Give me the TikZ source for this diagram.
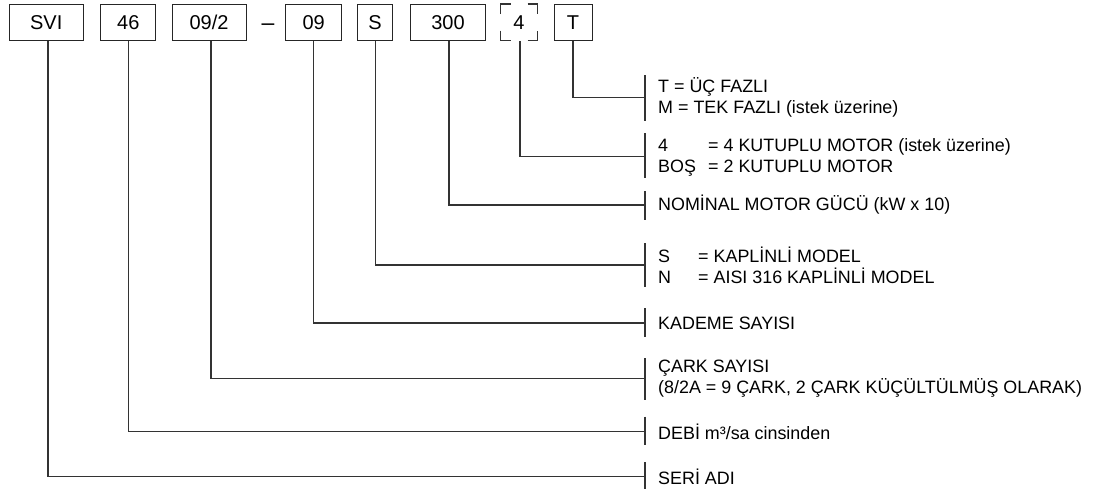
\documentclass[tikz,border=0pt]{standalone}
\usepackage{fontspec}
\setmainfont{Liberation Sans}
\begin{document}
\begin{tikzpicture}[x=1pt,y=-1pt,
  codebox/.style={draw=black!85, line width=1pt, minimum height=36.7pt, inner sep=0pt, font=\fontsize{20}{22}\selectfont},
  plainbox/.style={minimum height=36.7pt, inner sep=0pt, font=\fontsize{20}{22}\selectfont},
  conn/.style={draw=black!80, line width=1.1pt},
  bar/.style={draw=black!80, line width=1.1pt},
  desc/.style={anchor=west, inner sep=0pt, align=left, font=\fontsize{17.9}{21}\selectfont}]
\useasboundingbox (0,0) rectangle (1093,488);
% code boxes
\node[codebox, minimum width=73.7pt] (svi) at (46.2,22.35) {SVI};
\node[codebox, minimum width=55.3pt] (debi) at (128.3,22.35) {46};
\node[codebox, minimum width=74pt] (cark) at (209,22.35) {09/2};
\node[inner sep=0pt, text height=14pt, text depth=0pt, font=\fontsize{23}{24}\selectfont] (dash) at (268,23.5) {–};
\node[codebox, minimum width=56pt] (kad) at (313.7,22.35) {09};
\node[codebox, minimum width=35.7pt] (mod) at (375,22.35) {S};
\node[codebox, minimum width=74.6pt] (pow) at (448,22.35) {300};
\node[plainbox, minimum width=36.6pt] (pole) at (519,22.35) {4};
\node[codebox, minimum width=38pt] (phase) at (573,22.35) {T};
% corner marks of the optional box
\draw[conn] (500.7,14) -- (500.7,4) -- (510.5,4);
\draw[conn] (527.5,4) -- (537.3,4) -- (537.3,14);
\draw[conn] (500.7,30.7) -- (500.7,40.7) -- (510.5,40.7);
\draw[conn] (527.5,40.7) -- (537.3,40.7) -- (537.3,30.7);
% bars
\draw[bar] (645,75) -- (645,121);
\draw[bar] (645,133) -- (645,178);
\draw[bar] (645,191) -- (645,220);
\draw[bar] (645,243) -- (645,287);
\draw[bar] (645,308) -- (645,337);
\draw[bar] (645,358) -- (645,400);
\draw[bar] (645,416.5) -- (645,445);
\draw[bar] (645,462) -- (645,490);
% connector ends
\coordinate (ePhase) at (645,97.3);
\coordinate (ePole) at (645,156.7);
\coordinate (ePow) at (645,205);
\coordinate (eMod) at (645,265);
\coordinate (eKad) at (645,323);
\coordinate (eCark) at (645,378.5);
\coordinate (eDebi) at (645,431.7);
\coordinate (eSvi) at (645,476.7);
% connectors
\draw[conn] (phase.south) |- (ePhase);
\draw[conn] ([xshift=1pt]pole.south) |- (ePole);
\draw[conn] ([xshift=1pt]pow.south) |- (ePow);
\draw[conn] ([xshift=0.7pt]mod.south) |- (eMod);
\draw[conn] (kad.south) |- (eKad);
\draw[conn] ([xshift=2pt]cark.south) |- (eCark);
\draw[conn] (debi.south) |- (eDebi);
\draw[conn] ([xshift=1.8pt]svi.south) |- (eSvi);
% descriptions
\node[desc] (tPhase) at (658,97.3) {T = ÜÇ FAZLI\\M = TEK FAZLI (istek üzerine)};
\node[desc] (tPole) at (658,157) {\makebox[50pt][l]{4}= 4 KUTUPLU MOTOR (istek üzerine)\\\makebox[50pt][l]{BOŞ}= 2 KUTUPLU MOTOR};
\node[desc] (tPow) at (658,205) {NOMİNAL MOTOR GÜCÜ (kW x 10)};
\node[desc] (tMod) at (658,265) {\makebox[40pt][l]{S}= KAPLİNLİ MODEL\\\makebox[40pt][l]{N}= AISI 316 KAPLİNLİ MODEL};
\node[desc] (tKad) at (658,323) {KADEME SAYISI};
\node[desc] (tCark) at (658,378.5) {ÇARK SAYISI\\(8/2A = 9 ÇARK, 2 ÇARK KÜÇÜLTÜLMÜŞ OLARAK)};
\node[desc] (tDebi) at (658,431.7) {DEBİ m³/sa cinsinden};
\node[desc] (tSvi) at (658,477) {SERİ ADI};
\end{tikzpicture}
\end{document}
